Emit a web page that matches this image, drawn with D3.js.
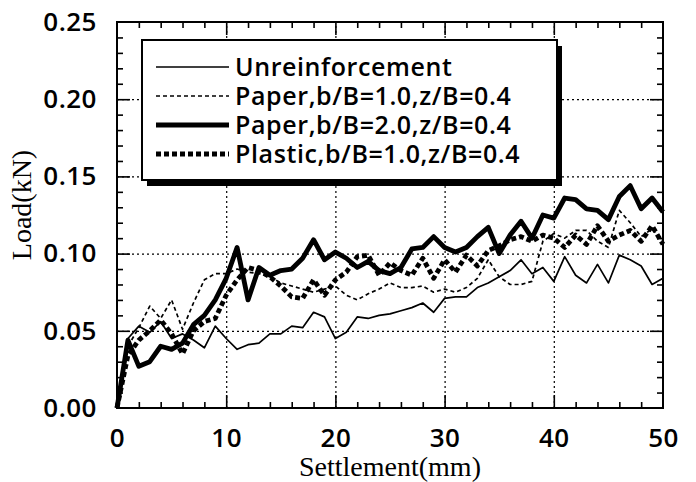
<!DOCTYPE html>
<html>
<head>
<meta charset="utf-8">
<script src="https://cdn.jsdelivr.net/npm/d3@7"></script>
<style>
  body { margin: 0; background: #fff; }
  svg { display: block; }
  .tick-label { font-family: "Open Sans", sans-serif; font-size: 26px; font-weight: 600; letter-spacing: 0.5px; fill: #000; }
  .legend-text { font-family: "Open Sans", sans-serif; font-size: 25px; font-weight: 600; letter-spacing: 0.6px; fill: #000; }
  .axis-title { font-family: "Liberation Serif", serif; font-size: 28px; fill: #000; }
</style>
</head>
<body>
<div id="chart"></div>
<script>
// settlement (mm), one reading per mm
const settlement = [0,1,2,3,4,5,6,7,8,9,10,11,12,13,14,15,16,17,18,19,20,21,22,23,24,25,26,27,28,29,30,31,32,33,34,35,36,37,38,39,40,41,42,43,44,45,46,47,48,49,50];

// load (kN) for each case
const unreinforced = [0,0.045,0.053,0.049,0.056,0.045,0.048,0.044,0.039,0.053,0.045,0.038,0.041,0.042,0.048,0.048,0.053,0.052,0.062,0.059,0.045,0.049,0.059,0.058,0.060,0.061,0.063,0.065,0.068,0.062,0.071,0.072,0.072,0.078,0.081,0.085,0.089,0.096,0.087,0.091,0.082,0.098,0.086,0.081,0.093,0.081,0.099,0.096,0.092,0.080,0.084];
const paperB10 = [0,0.040,0.052,0.066,0.058,0.070,0.051,0.068,0.083,0.087,0.087,0.090,0.088,0.087,0.085,0.081,0.079,0.077,0.075,0.077,0.079,0.073,0.070,0.074,0.077,0.081,0.078,0.078,0.079,0.075,0.077,0.075,0.078,0.084,0.096,0.085,0.080,0.080,0.082,0.108,0.113,0.110,0.115,0.115,0.108,0.104,0.128,0.120,0.111,0.116,0.108];
const paperB20 = [0,0.044,0.027,0.030,0.040,0.038,0.042,0.054,0.060,0.070,0.084,0.104,0.070,0.091,0.086,0.089,0.090,0.097,0.109,0.096,0.101,0.097,0.091,0.095,0.089,0.087,0.091,0.103,0.104,0.111,0.104,0.101,0.104,0.111,0.117,0.100,0.112,0.121,0.110,0.125,0.123,0.136,0.135,0.129,0.128,0.122,0.137,0.144,0.129,0.136,0.127];
const plasticB10 = [0,0.034,0.044,0.050,0.057,0.048,0.035,0.050,0.056,0.058,0.073,0.083,0.091,0.089,0.085,0.079,0.072,0.071,0.083,0.073,0.083,0.088,0.098,0.099,0.086,0.094,0.089,0.086,0.097,0.084,0.096,0.088,0.099,0.092,0.102,0.105,0.109,0.111,0.108,0.112,0.110,0.104,0.112,0.106,0.118,0.108,0.112,0.115,0.108,0.118,0.106];

const seriesNames = ["Unreinforcement", "Paper,b/B=1.0,z/B=0.4", "Paper,b/B=2.0,z/B=0.4", "Plastic,b/B=1.0,z/B=0.4"];
const xTicks = [0,10,20,30,40,50];
const yTicks = [0,0.05,0.10,0.15,0.20,0.25];

const width = 696, height = 482;
const plotLeft = 117, plotRight = 663, plotTop = 22, plotBottom = 408;

const svg = d3.select("#chart").append("svg")
    .attr("width", width)
    .attr("height", height);

const x = d3.scaleLinear().domain([0, 50]).range([plotLeft, plotRight]);
const y = d3.scaleLinear().domain([0, 0.25]).range([plotBottom, plotTop]);

// dotted grid
const grid = svg.append("g").attr("class", "grid");
grid.append("g")
    .attr("transform", "translate(0," + plotBottom + ")")
    .call(d3.axisBottom(x).tickValues([10,20,30,40]).tickSize(-(plotBottom - plotTop)).tickFormat(""));
grid.append("g")
    .attr("transform", "translate(" + plotLeft + ",0)")
    .call(d3.axisLeft(y).tickValues([0.05,0.10,0.15,0.20]).tickSize(-(plotRight - plotLeft)).tickFormat(""));
grid.selectAll(".domain").remove();
grid.selectAll("line")
    .attr("stroke", "#000")
    .attr("stroke-width", 1.2)
    .attr("stroke-dasharray", "2,3");

// series
const styles = [
    {data: unreinforced, w: 1.7, dash: null},
    {data: paperB10, w: 1.7, dash: "4,3"},
    {data: paperB20, w: 4.8, dash: null},
    {data: plasticB10, w: 4.8, dash: "5,3"}
];
const line = d3.line()
    .x((d, i) => x(settlement[i]))
    .y(d => y(d));

svg.append("g").attr("class", "lines")
    .selectAll("path")
    .data(styles)
    .enter().append("path")
    .attr("d", d => line(d.data))
    .attr("fill", "none")
    .attr("stroke", "#000")
    .attr("stroke-width", d => d.w)
    .attr("stroke-dasharray", d => d.dash)
    .attr("stroke-linejoin", "round");

// legend with drop shadow
const lg = svg.append("g").attr("class", "legend");
lg.append("rect")
    .attr("x", 147).attr("y", 46)
    .attr("width", 415).attr("height", 140)
    .attr("fill", "#000");
lg.append("rect")
    .attr("x", 142).attr("y", 40)
    .attr("width", 415).attr("height", 140)
    .attr("fill", "#fff")
    .attr("stroke", "#000")
    .attr("stroke-width", 2);

const rowY = d3.scalePoint().domain(seriesNames).range([67, 154]);
const rows = lg.selectAll(".row")
    .data(seriesNames)
    .enter().append("g")
    .attr("transform", d => "translate(0," + rowY(d) + ")");
rows.append("line")
    .attr("x1", 156).attr("x2", 229)
    .attr("y1", 0).attr("y2", 0)
    .attr("stroke", "#000")
    .attr("stroke-width", (d, i) => styles[i].w)
    .attr("stroke-dasharray", (d, i) => styles[i].dash);
rows.append("text")
    .attr("class", "legend-text")
    .attr("x", 235)
    .attr("dy", "0.36em")
    .text(d => d);

// frame
svg.append("rect")
    .attr("x", plotLeft).attr("y", plotTop)
    .attr("width", plotRight - plotLeft).attr("height", plotBottom - plotTop)
    .attr("fill", "none")
    .attr("stroke", "#000")
    .attr("stroke-width", 2);

// inward ticks on all four sides
const xMinor = d3.range(2, 50, 2).filter(v => v % 10 !== 0);
const yMinor = d3.range(1, 25).filter(v => v % 5 !== 0).map(v => v / 100);
function ticks(axis, values, size) {
    return axis.tickValues(values).tickSize(size).tickFormat("");
}
const tk = svg.append("g").attr("class", "ticks");
[[xMinor, 6], [[10,20,30,40], 13]].forEach(([vals, s]) => {
    tk.append("g").attr("transform", "translate(0," + plotBottom + ")").call(ticks(d3.axisTop(x), vals, s));
    tk.append("g").attr("transform", "translate(0," + plotTop + ")").call(ticks(d3.axisBottom(x), vals, s));
});
[[yMinor, 6], [[0.05,0.10,0.15,0.20], 13]].forEach(([vals, s]) => {
    tk.append("g").attr("transform", "translate(" + plotLeft + ",0)").call(ticks(d3.axisRight(y), vals, s));
    tk.append("g").attr("transform", "translate(" + plotRight + ",0)").call(ticks(d3.axisLeft(y), vals, s));
});
tk.selectAll(".domain").remove();
tk.selectAll("line").attr("stroke", "#000").attr("stroke-width", 1.6);

// tick labels
const xLab = svg.append("g")
    .attr("transform", "translate(0," + plotBottom + ")")
    .call(d3.axisBottom(x).tickValues(xTicks).tickSize(0).tickPadding(21).tickFormat(d3.format("d")));
const yLab = svg.append("g")
    .attr("transform", "translate(" + plotLeft + ",0)")
    .call(d3.axisLeft(y).tickValues(yTicks).tickSize(0).tickPadding(20).tickFormat(d3.format(".2f")));
[xLab, yLab].forEach(g => {
    g.select(".domain").remove();
    g.attr("font-size", null).attr("font-family", null);
    g.selectAll("text").attr("class", "tick-label");
});

// axis titles
svg.append("text")
    .attr("class", "axis-title")
    .attr("x", 390)
    .attr("y", 476)
    .attr("text-anchor", "middle")
    .text("Settlement(mm)");
svg.append("text")
    .attr("class", "axis-title")
    .attr("transform", "translate(31," + 205 + ") rotate(-90)")
    .attr("text-anchor", "middle")
    .text("Load(kN)");
</script>
</body>
</html>
